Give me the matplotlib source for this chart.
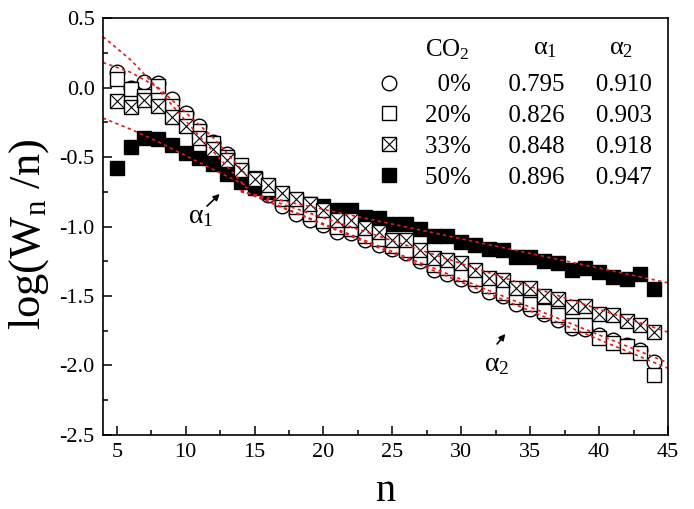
import numpy as np
import matplotlib as mpl
mpl.use('Agg')
import matplotlib.pyplot as plt

mpl.rcParams['font.family'] = 'Liberation Serif'
mpl.rcParams['mathtext.fontset'] = 'custom'
mpl.rcParams['mathtext.rm'] = 'Liberation Serif'
mpl.rcParams['mathtext.it'] = 'Liberation Serif'
mpl.rcParams['axes.unicode_minus'] = False

n = np.arange(5, 45)

w0 = [0.11, 0.00, 0.04, 0.03, -0.08, -0.18, -0.28, -0.39, -0.48, -0.57,
      -0.66, -0.77, -0.85, -0.91, -0.95, -0.99, -1.04, -1.05, -1.10, -1.13,
      -1.16, -1.19, -1.25, -1.31, -1.34, -1.38, -1.42, -1.47, -1.50, -1.56,
      -1.59, -1.63, -1.67, -1.73, -1.74, -1.78, -1.82, -1.85, -1.89, -1.975]
w20 = [0.06, -0.01, -0.06, 0.01, -0.13, -0.22, -0.31, -0.40, -0.50, -0.56,
       -0.65, -0.73, -0.80, -0.86, -0.91, -0.96, -1.00, -1.02, -1.07, -1.09,
       -1.14, -1.17, -1.22, -1.28, -1.30, -1.34, -1.38, -1.43, -1.48, -1.51,
       -1.56, -1.61, -1.64, -1.71, -1.71, -1.80, -1.84, -1.86, -1.91, -2.07]
w33 = [-0.10, -0.14, -0.09, -0.13, -0.21, -0.28, -0.36, -0.44, -0.52, -0.59,
       -0.66, -0.70, -0.76, -0.80, -0.84, -0.88, -0.95, -0.95, -1.01, -1.04,
       -1.10, -1.10, -1.17, -1.23, -1.24, -1.265, -1.31, -1.37, -1.385, -1.445,
       -1.44, -1.50, -1.52, -1.58, -1.57, -1.63, -1.64, -1.68, -1.71, -1.76]
w50 = [-0.58, -0.43, -0.36, -0.37, -0.41, -0.47, -0.51, -0.55, -0.62, -0.68,
       -0.72, -0.75, -0.79, -0.82, -0.84, -0.85, -0.88, -0.88, -0.93, -0.94,
       -0.98, -0.98, -1.02, -1.07, -1.07, -1.11, -1.13, -1.16, -1.17, -1.22,
       -1.22, -1.25, -1.26, -1.31, -1.30, -1.33, -1.36, -1.38, -1.34, -1.45]

# fitted curves
fit1_n = [4, 6, 8, 10, 12, 14.5]
fit1_0 = [0.365, 0.20, -0.01, -0.24, -0.46, -0.73]
fit1_20 = [0.18, 0.11, 0.0, -0.18, -0.36, -0.64]
fit1_50 = [-0.22, -0.30, -0.39, -0.49, -0.59, -0.71]
fit2_n = [14, 45]
fit2_0 = [-0.74, -2.02]
fit2_20 = [-0.74, -1.98]
fit2_33 = [-0.74, -1.76]
fit2_50 = [-0.75, -1.405]

co2 = ['  0%', '20%', '33%', '50%']
alpha1 = ['0.795', '0.826', '0.848', '0.896']
alpha2 = ['0.910', '0.903', '0.918', '0.947']

fig = plt.figure(figsize=(6.94, 5.09), dpi=100)
ax = fig.add_axes([0.1484, 0.1454, 0.8141, 0.8192])

ms = 10.3
mew = 1.0
h0, = ax.plot(n, w0, 'o', ms=10.5, mfc='white', mec='black', mew=mew, ls='none')
h50, = ax.plot(n, w50, 's', ms=ms, mfc='black', mec='black', mew=mew, ls='none')
h20, = ax.plot(n, w20, 's', ms=ms, mfc='white', mec='black', mew=mew, ls='none')
h33a, = ax.plot(n, w33, 's', ms=ms, mfc='white', mec='black', mew=mew, ls='none')
h33b, = ax.plot(n, w33, 'x', ms=ms, mec='black', mew=0.8, ls='none')

red = dict(color='#e31a1c', lw=1.2, ls=(0, (2, 2)))
for y in (fit1_0, fit1_20, fit1_50):
    ax.plot(fit1_n, y, **red)
for y in (fit2_0, fit2_20, fit2_33, fit2_50):
    ax.plot(fit2_n, y, **red)

ax.set_xlim(4, 45)
ax.set_ylim(-2.5, 0.5)
ax.set_xticks(np.arange(5, 46, 5))
ax.set_xticks(np.arange(7.5, 45, 5), minor=True)
ax.set_yticks(np.arange(-2.5, 0.51, 0.5))
ax.set_yticks(np.arange(-2.25, 0.5, 0.5), minor=True)
ax.yaxis.set_major_formatter(mpl.ticker.FormatStrFormatter('%.1f'))
ax.tick_params(which='both', direction='in', labelsize=16, width=1.1)
ax.tick_params(which='major', length=6.5, pad=6)
ax.tick_params(which='minor', length=3.5)
for s in ax.spines.values():
    s.set_linewidth(1.2)

ax.set_xlabel('n', fontsize=29, labelpad=8)
ax.set_ylabel(r'log(W$_\mathrm{n}$ /n)', fontsize=32)
ax.yaxis.set_label_coords(-0.092, 0.48)

# table-like legend
rows = ['%s      %s     %s' % (c, a1, a2) for c, a1, a2 in zip(co2, alpha1, alpha2)]
leg = ax.legend([h0, h20, (h33a, h33b), h50], rows, loc='upper left',
                bbox_to_anchor=(0.485, 0.866), frameon=False, fontsize=18,
                borderpad=0, borderaxespad=0, handlelength=0.95,
                handletextpad=0.95, labelspacing=0.33)

ax.text(0.570, 0.925, r'CO$_2$', transform=ax.transAxes, fontsize=18, ha='left', va='center')
ax.text(0.782, 0.925, r'$\alpha_1$', transform=ax.transAxes, fontsize=19, ha='center', va='center')
ax.text(0.917, 0.925, r'$\alpha_2$', transform=ax.transAxes, fontsize=19, ha='center', va='center')

arrow = dict(arrowstyle='-|>', color='black', lw=1.2, mutation_scale=9, shrinkA=0, shrinkB=0)
ax.text(11.1, -0.93, r'$\alpha_1$', fontsize=20, ha='center', va='center')
ax.annotate('', xy=(12.47, -0.766), xytext=(11.55, -0.853), arrowprops=arrow)
ax.text(32.55, -1.99, r'$\alpha_2$', fontsize=20, ha='center', va='center')
ax.annotate('', xy=(33.2, -1.773), xytext=(32.6, -1.845), arrowprops=arrow)

fig.savefig('out.png', dpi=100)
